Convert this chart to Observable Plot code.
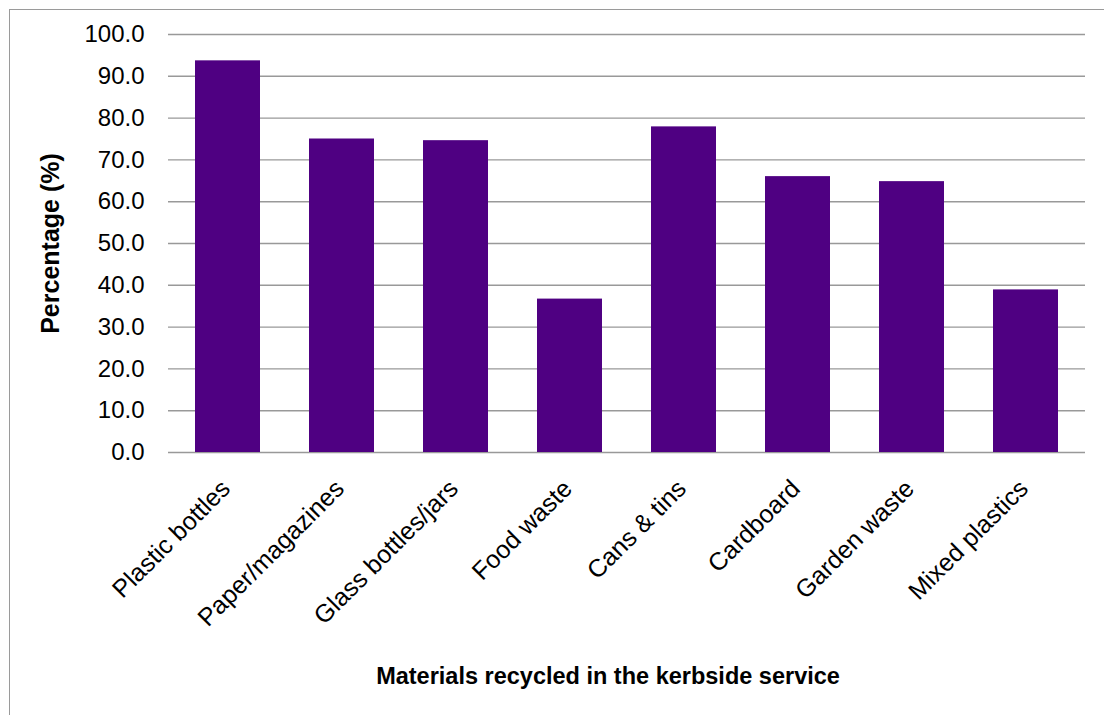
<!DOCTYPE html>
<html>
<head>
<meta charset="utf-8">
<script src="https://cdn.jsdelivr.net/npm/d3@7"></script>
<script src="https://cdn.jsdelivr.net/npm/@observablehq/plot@0.6"></script>
<style>
  html, body { margin: 0; padding: 0; background: #fff; overflow: hidden; }
  #wrap { position: relative; width: 1104px; height: 715px; overflow: hidden; }
  #border { position: absolute; left: 9px; top: 9px; width: 1200px; height: 800px;
            border-left: 1.5px solid #9a9a9a; border-top: 1.5px solid #9a9a9a; box-sizing: border-box; }
  #chart { position: absolute; left: 0; top: 0; }
  svg { font-family: "Liberation Sans", Arial, sans-serif; }
</style>
</head>
<body>
<div id="wrap"><div id="border"></div><div id="chart"></div></div>
<script>
const categories = ["Plastic bottles", "Paper/magazines", "Glass bottles/jars", "Food waste",
  "Cans & tins", "Cardboard", "Garden waste", "Mixed plastics"];
const values = [93.7, 75.0, 74.6, 36.7, 77.9, 66.0, 64.8, 38.9];
const yTicks = [0, 10, 20, 30, 40, 50, 60, 70, 80, 90, 100];
const yLabel = "Percentage (%)";
const xLabel = "Materials recycled in the kerbside service";

const data = categories.map((c, i) => ({category: c, value: values[i]}));

const chart = Plot.plot({
  width: 1104,
  height: 715,
  marginLeft: 168,
  marginRight: 19,
  marginTop: 34,
  marginBottom: 263,
  style: {fontFamily: "'Liberation Sans', Arial, sans-serif", background: "transparent", color: "#000"},
  x: {domain: categories, paddingInner: 0.43, paddingOuter: 0.215},
  y: {domain: [0, 100]},
  marks: [
    Plot.gridY(yTicks, {stroke: "#999", strokeOpacity: 1, strokeWidth: 1.4}),
    Plot.barY(data, {x: "category", y: "value", fill: "#4f0082"}),
    Plot.axisY(yTicks, {tickSize: 0, tickPadding: 24, tickFormat: d3.format(".1f"), fontSize: 24, label: null, fill: "#000"}),
    Plot.axisX({tickSize: 0, tickRotate: -45, tickPadding: 32, dx: -2, fontSize: 25, label: null, fill: "#000"}),
    Plot.text([yLabel], {frameAnchor: "left", rotate: -90, textAnchor: "middle", dx: -118, fontSize: 25, fontWeight: "bold", fill: "#000"}),
    Plot.text([xLabel], {frameAnchor: "bottom", dx: -19, dy: 231, fontSize: 23.5, fontWeight: "bold", fill: "#000"})
  ]
});
document.getElementById("chart").appendChild(chart);
</script>
</body>
</html>
